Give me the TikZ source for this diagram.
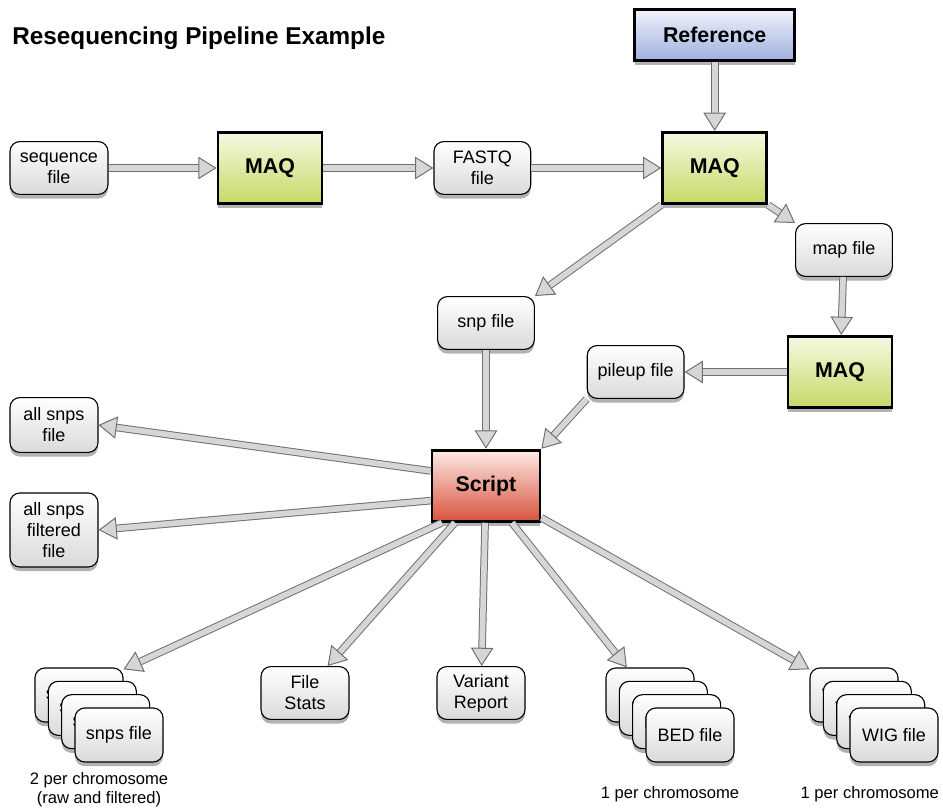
\documentclass[tikz,border=0pt]{standalone}
\usepackage{fontspec}
\setmainfont{Liberation Sans}
\usetikzlibrary{positioning,arrows.meta,shadows}

\definecolor{refbluetop}{RGB}{240,242,251}
\definecolor{refbluebot}{RGB}{158,176,222}
\definecolor{maqtop}{RGB}{246,249,226}
\definecolor{maqbot}{RGB}{196,218,102}
\definecolor{scripttop}{RGB}{253,234,230}
\definecolor{scriptbot}{RGB}{216,82,60}
\definecolor{filebot}{RGB}{218,218,220}
\definecolor{pipeedge}{RGB}{112,112,112}
\definecolor{pipefill}{RGB}{214,214,214}

\tikzset{
	boxshadow/.style = {drop shadow={shadow xshift=0pt, shadow yshift=-3pt, opacity=0.3, fill=black}},
	filebox/.style = {draw, line width=0.8pt, rounded corners=7pt, top color=white, bottom color=filebot,
	  minimum width=2.42cm, minimum height=1.32cm, align=center, inner sep=2pt,
	  font=\fontsize{12.8}{15}\selectfont, boxshadow},
	smallfile/.style = {filebox, minimum width=2.2cm},
	procbox/.style = {draw, line width=2pt, minimum width=2.6cm, minimum height=1.78cm,
	  font=\fontsize{15.2}{17}\selectfont\bfseries, boxshadow},
	maqbox/.style = {procbox, top color=maqtop, bottom color=maqbot},
	countlabel/.style = {font=\fontsize{11.8}{13}\selectfont, align=center},
	pipe/.style = {draw=pipeedge, line width=0.7pt, double=pipefill, double distance=4pt,
	  -{Triangle[length=13pt, width=16pt, fill=pipefill, line width=0.7pt]}}
}
\tikzset{
	filestack/.pic = {
	 \node [smallfile, minimum height=1.35cm] (-back) at (-1,1) {#1};
	 \node [smallfile, minimum height=1.35cm] at (-0.667,0.667) {#1};
	 \node [smallfile, minimum height=1.35cm] at (-0.333,0.333) {#1};
	 \node [smallfile, minimum height=1.35cm] (-front) at (0,0) {#1};
	 \coordinate (-base) at (-0.5,-0.675) ;
	 }}

\begin{document}
\begin{tikzpicture}
\useasboundingbox (0,0) rectangle (23.575,20.225);

% NODES

% title
\node (title) [anchor=base west, inner sep=0pt, font=\fontsize{17.3}{20}\selectfont\bfseries] at (0.3,19.1) {Resequencing Pipeline Example};

% top row
\node (seqfile) [filebox, minimum width=2.45cm] at (1.475,16.025) {sequence\\file};
\node (maqA) [maqbox, right=2.7cm of seqfile] {MAQ};
\node (fastq) [filebox, right=2.75cm of maqA] {FASTQ\\file};
\node (maqB) [maqbox, right=3.25cm of fastq] {MAQ};
\node (reference) [procbox, top color=refbluetop, bottom color=refbluebot, minimum width=4cm, minimum height=1.28cm, above=1.72cm of maqB] {Reference};

% middle
\node (mapfile) [filebox] at (21.1,13.975) {map file};
\node (snpfile) [filebox] at (12.15,12.15) {snp file};
\node (maqC) [maqbox] at (21.0,10.925) {MAQ};
\node (pileup) [filebox, left=2.55cm of maqC] {pileup file};
\node (script) [procbox, top color=scripttop, bottom color=scriptbot, minimum width=2.7cm, below=2.47cm of snpfile] {Script};

% outputs
\node (allsnps) [smallfile, minimum height=1.37cm] at (1.35,9.6) {all snps\\file};
\node (allsnpsf) [smallfile, minimum height=1.85cm] at (1.35,6.975) {all snps\\filtered\\file};
\node (filestats) [smallfile] at (7.625,2.9) {File\\Stats};
\node (variant) [smallfile] at (12.025,2.9) {Variant\\Report};
\pic (snps) at (2.975,1.85) {filestack={snps file}};
\pic (bed) at (17.25,1.85) {filestack={BED file}};
\pic (wig) at (22.35,1.85) {filestack={WIG file}};
\node (snpslabel) [countlabel, below=0.15cm of snps-base] {2 per chromosome\\(raw and filtered)};
\node (bedlabel) [countlabel, below=0.5cm of bed-base] {1 per chromosome};
\node (wiglabel) [countlabel, below=0.5cm of wig-base, xshift=-3pt] {1 per chromosome};

% CONNECTIONS
\draw [pipe] (seqfile) -- (maqA);
\draw [pipe] (maqA) -- (fastq);
\draw [pipe] (fastq) -- (maqB);
\draw [pipe] (reference) -- (maqB);
\draw [pipe] (maqB.south east) -- (mapfile.north west);
\draw [pipe] (maqB.south west) -- (snpfile.north east);
\draw [pipe] (mapfile) -- (maqC);
\draw [pipe] (maqC) -- (pileup);
\draw [pipe] (snpfile) -- (script);
\draw [pipe] (pileup.south west) -- (script.north east);
\draw [pipe] (script.165) -- (allsnps.east);
\draw [pipe] (script.195) -- (allsnpsf.east);
\draw [pipe] (script.-140) -- (snps-back.30);
\draw [pipe] (script.-130) -- (filestats.50);
\draw [pipe] (script) -- (variant);
\draw [pipe] (script.-55) -- (bed-back.130);
\draw [pipe] (script.-30) -- (wig-back.150);

\end{tikzpicture}
\end{document}
